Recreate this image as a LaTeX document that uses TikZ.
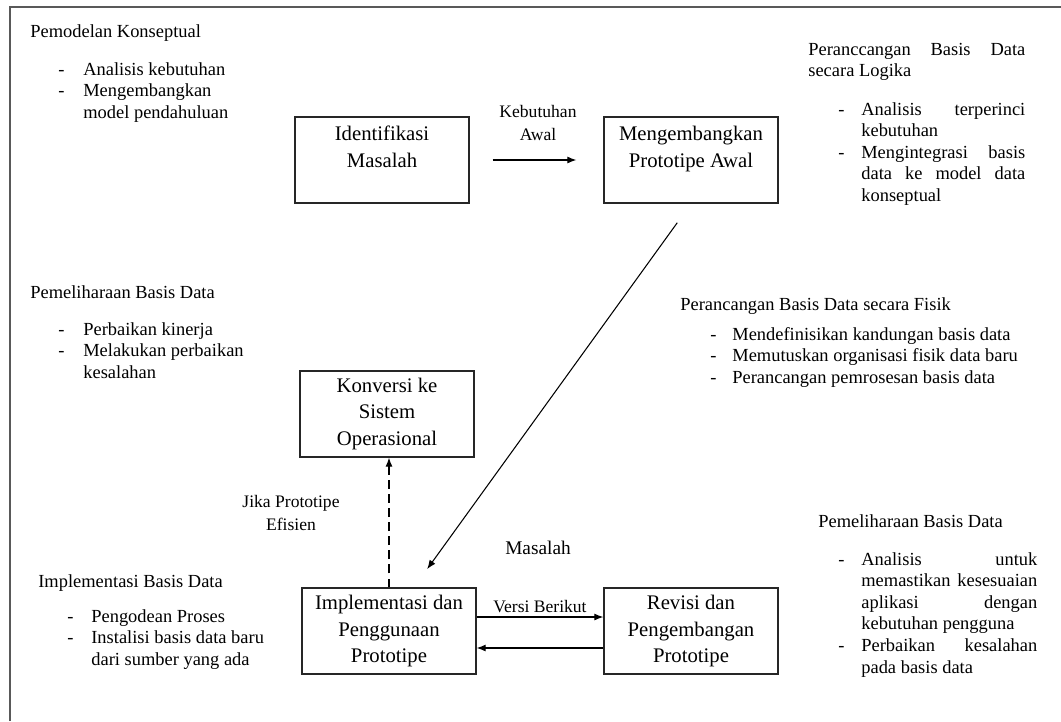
\documentclass[tikz,border=0pt]{standalone}
\usepackage{fontspec}
\setmainfont{Liberation Serif}
\usetikzlibrary{arrows.meta}

\tikzset{
  box/.style={draw=black!85, line width=0.8pt, minimum width=3.48cm, minimum height=1.72cm,
    align=center, inner sep=1pt, font=\fontsize{11.8}{15.3}\selectfont},
  lbl/.style={align=center, inner sep=0pt, font=\fontsize{10}{13}\selectfont},
  note/.style={anchor=base west, inner sep=0pt, font=\fontsize{10.5}{12.3}\selectfont},
  arr/.style={line width=0.6pt, -{Latex[length=1.8mm,width=1.4mm]}},
}

\begin{document}
\begin{tikzpicture}[x=0.02cm,y=-0.02cm]
\useasboundingbox (0,0) rectangle (1061,721);
% outer frame
\draw[line width=1.1pt, black!65] (10,721) -- (10,7) -- (1061,7);

% process boxes
\node[box] (masalahBox) at (382,160) {Identifikasi\\Masalah\\~};
\node[box] (awalBox) at (691,160) {Mengembangkan\\Prototipe Awal\\~};
\node[box] (konversiBox) at (387,414) {Konversi ke\\Sistem\\Operasional};
\node[box] (implBox) at (389,631) {Implementasi dan\\Penggunaan\\Prototipe};
\node[box] (revisiBox) at (691,631) {Revisi dan\\Pengembangan\\Prototipe};

% connectors
\draw[arr, shorten <=0.46cm, shorten >=0.54cm] (masalahBox) -- (awalBox);
\draw[arr, shorten <=0.47cm, shorten >=0.45cm] (awalBox.south) -- ([xshift=0.5cm]implBox.north);
\draw[arr, dash pattern=on 5pt off 3pt] (implBox.north) -- (konversiBox.south -| implBox.north);
\draw[arr] ([yshift=0.28cm]implBox.east) -- ([yshift=0.28cm]revisiBox.west);
\draw[arr] ([yshift=-0.34cm]revisiBox.west) -- ([yshift=-0.34cm]implBox.east);

% connector labels
\node[lbl] (kebutuhanLbl) at (538,123) {Kebutuhan\\Awal};
\node[lbl] (efisienLbl) at (291,513) {Jika Prototipe\\Efisien};
\node[lbl, font=\fontsize{11}{13}\selectfont] (masalahLbl) at (538,548) {Masalah};
\node[lbl] (versiLbl) at (540,607) {Versi Berikut};

% Pemodelan Konseptual
\node[note] (konsepHead) at (30,37) {Pemodelan Konseptual};
\node[note] (konsepList) at (58,75) {\begin{tabular}[t]{@{}p{0.5cm}@{}l@{}}
- & Analisis kebutuhan\\
- & Mengembangkan\\
  & model pendahuluan
\end{tabular}};

% Perancangan logika
\node[note] (logikaHead) at (808,55) {\begin{tabular}[t]{@{}l@{}}
\makebox[4.34cm][s]{Peranccangan Basis Data}\\
secara Logika
\end{tabular}};
\node[note] (logikaList) at (838,115) {\begin{tabular}[t]{@{}p{0.46cm}@{}l@{}}
- & \makebox[3.28cm][s]{Analisis terperinci}\\
  & kebutuhan\\
- & \makebox[3.28cm][s]{Mengintegrasi basis}\\
  & \makebox[3.28cm][s]{data ke model data}\\
  & konseptual
\end{tabular}};

% Pemeliharaan (kiri)
\node[note] (pelihara1Head) at (30,298) {Pemeliharaan Basis Data};
\node[note] (pelihara1List) at (58,335) {\begin{tabular}[t]{@{}p{0.5cm}@{}l@{}}
- & Perbaikan kinerja\\
- & Melakukan perbaikan\\
  & kesalahan
\end{tabular}};

% Perancangan fisik
\node[note] (fisikHead) at (680,310) {Perancangan Basis Data secara Fisik};
\node[note] (fisikList) at (710,340) {\begin{tabular}[t]{@{}p{0.44cm}@{}l@{}}
- & Mendefinisikan kandungan basis data\\
- & Memutuskan organisasi fisik data baru\\
- & Perancangan pemrosesan basis data
\end{tabular}};

% Implementasi
\node[note] (implHead) at (38,587) {Implementasi Basis Data};
\node[note] (implList) at (67,622) {\begin{tabular}[t]{@{}p{0.48cm}@{}l@{}}
- & Pengodean Proses\\
- & Instalisi basis data baru\\
  & dari sumber yang ada
\end{tabular}};

% Pemeliharaan (kanan)
\node[note] (pelihara2Head) at (818,527) {Pemeliharaan Basis Data};
\node[note] (pelihara2List) at (838,565) {\begin{tabular}[t]{@{}p{0.46cm}@{}l@{}}
- & \makebox[3.52cm][s]{Analisis untuk}\\
  & \makebox[3.52cm][s]{memastikan kesesuaian}\\
  & \makebox[3.52cm][s]{aplikasi dengan}\\
  & kebutuhan pengguna\\
- & \makebox[3.52cm][s]{Perbaikan kesalahan}\\
  & pada basis data
\end{tabular}};
\end{tikzpicture}
\end{document}
